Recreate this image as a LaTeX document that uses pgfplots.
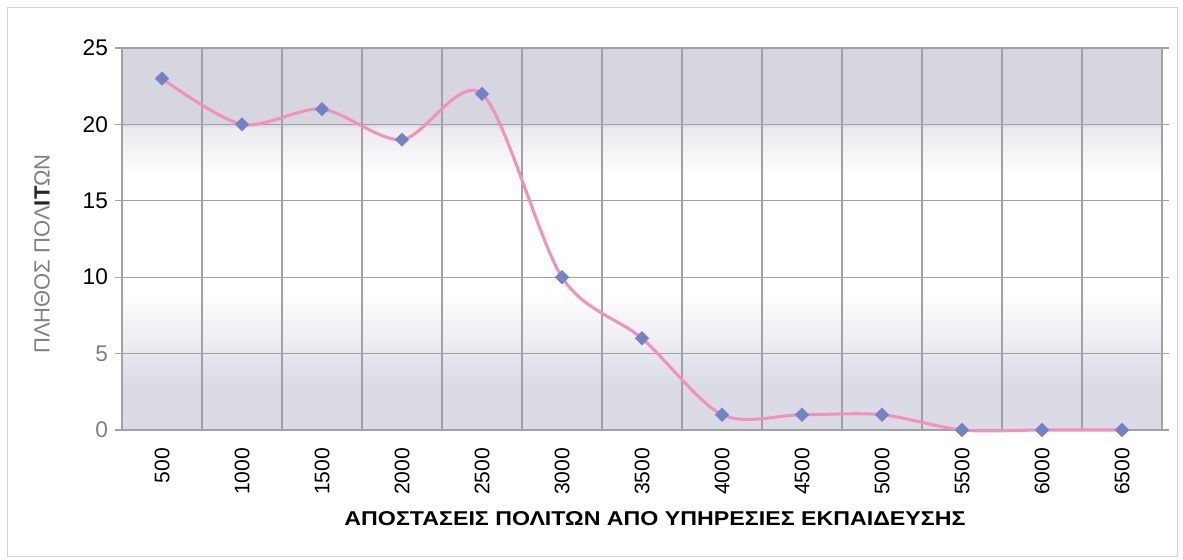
\documentclass[border=0pt]{standalone}
\usepackage{fontspec}
\setmainfont{Liberation Sans}
\usepackage{pgfplots}
\pgfplotsset{compat=1.18}
\definecolor{linepink}{RGB}{242,146,186}
\definecolor{markblue}{RGB}{114,130,198}
\definecolor{gridgray}{RGB}{160,160,165}
\pgfdeclareverticalshading{bgshade}{100bp}{rgb(0bp)=(0.86,0.86,0.9); rgb(25bp)=(0.86,0.86,0.9); rgb(31bp)=(0.86,0.86,0.9); rgb(43bp)=(1,1,1); rgb(58bp)=(1,1,1); rgb(64.5bp)=(0.92,0.92,0.94); rgb(65bp)=(0.84,0.84,0.87); rgb(75bp)=(0.84,0.84,0.87); rgb(100bp)=(0.84,0.84,0.87)}
\newcommand\tickfont{\fontsize{15.8}{16}\selectfont}
\newcommand\ytickfont{\fontsize{17}{17}\selectfont}
\begin{document}
\begin{tikzpicture}[x=0.75pt,y=0.75pt]
\path[use as bounding box] (0,0) rectangle (1183,560);
\draw[gray!35, line width=0.75pt] (7,3) rectangle (1177,552);
\begin{axis}[
  at={(91.5pt,97.5pt)}, anchor=south west,
  scale only axis, width=780pt, height=286.5pt,
  xmin=0, xmax=13, ymin=0, ymax=25,
  axis background/.style={shading=bgshade},
  xtick={0.5,1.5,...,12.5},
  xticklabels={500,1000,1500,2000,2500,3000,3500,4000,4500,5000,5500,6000,6500},
  x tick label style={rotate=90, anchor=east, font=\tickfont},
  xtick style={draw=none},
  minor xtick={0,1,...,13},
  xminorgrids=true, ymajorgrids=true,
  ytick={0,5,...,25},
  yticklabels={\textcolor{gray}{0},\textcolor{gray}{5},10,15,20,25},
  y tick label style={font=\ytickfont},
  yticklabel shift=2pt,
  tick align=outside,
  major tick length=5pt, minor tick length=5pt,
  tick style={gridgray, line width=0.8pt},
  grid style={gridgray, line width=0.8pt},
  minor grid style={gridgray, line width=0.8pt},
  axis line style={gridgray, line width=0.9pt},
  xticklabel shift=5pt,
  /pgf/number format/assume math mode=true,
  clip=false,
]
\addplot[smooth, tension=0.5, color=linepink, line width=2.3pt,
  mark=square*, mark size=3.6pt,
  mark options={solid, rotate=45, fill=markblue, draw=markblue, line width=0.3pt}]
coordinates {(0.5,23)(1.5,20)(2.5,21)(3.5,19)(4.5,22)(5.5,10)(6.5,6)(7.5,1)(8.5,1)(9.5,1)(10.5,0)(11.5,0)(12.5,0)};
\end{axis}
\node[font=\bfseries\fontsize{15}{15}\selectfont] at (655,41) {\scalebox{1.16}[1]{ΑΠΟΣΤΑΣΕΙΣ ΠΟΛΙΤΩΝ ΑΠΟ ΥΠΗΡΕΣΙΕΣ ΕΚΠΑΙΔΕΥΣΗΣ}};
\node[rotate=90, text=gray, font=\fontsize{16.5}{16.5}\selectfont] at (42,306) {ΠΛΗΘΟΣ ΠΟΛ{\color{black!85}\bfseries ΙΤ}ΩΝ};
\end{tikzpicture}
\end{document}
